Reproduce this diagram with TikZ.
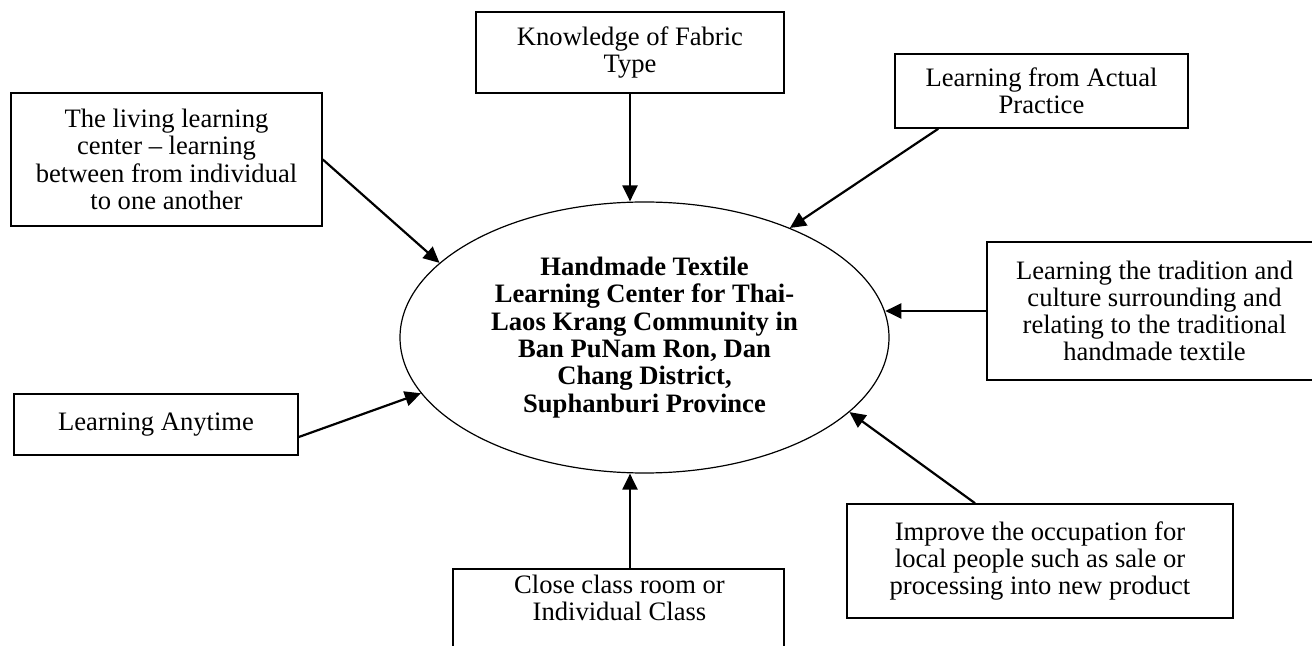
\documentclass[tikz,border=0pt]{standalone}
\usepackage{fontspec}
\setmainfont{Liberation Serif}
\usetikzlibrary{shapes.geometric,arrows.meta}
\tikzset{
  box/.style={draw, line width=0.8pt, align=center, inner sep=0pt, font=\fontsize{13.3}{13.6}\selectfont},
  hubshape/.style={draw, ellipse, line width=0.6pt, inner sep=0pt, align=center, font=\fontsize{13.3}{13.7}\selectfont\bfseries},
  feed/.style={line width=1.1pt, -{Triangle[length=8pt,width=7.5pt]}}
}
\begin{document}
\begin{tikzpicture}[x=0.5pt, y=-0.5pt]
            \useasboundingbox (0,0) rectangle (1312,646);
            \node[hubshape, minimum width=244.5pt, minimum height=135.5pt] (hub) at (644.5,337.5) {Handmade Textile\\Learning Center for Thai-\\Laos Krang Community in\\Ban PuNam Ron, Dan\\Chang District,\\Suphanburi Province};
            \node[box, minimum width=155.5pt, minimum height=66.5pt] (living) at (166.5,159.5) {The living learning\\center -- learning\\between from individual\\to one another};
            \node[box, minimum width=154pt, minimum height=40.5pt] (fabric) at (630,52.5) {Knowledge of Fabric\\Type};
            \node[box, minimum width=146.5pt, minimum height=37pt] (practice) at (1041.5,91) {Learning from Actual\\Practice};
            \node[box, minimum width=167.5pt, minimum height=69pt] (tradition) at (1154.5,311) {Learning the tradition and\\culture surrounding and\\relating to the traditional\\handmade textile};
            \node[box, minimum width=193pt, minimum height=57pt] (improve) at (1040,561) {Improve the occupation for\\local people such as sale or\\processing into new product};
            \node[box, minimum width=142pt, minimum height=30.5pt] (anytime) at (156,424.5) {Learning Anytime};
            \node[box, anchor=north, minimum width=165.5pt, minimum height=60pt] (close) at (618.5,568) {};
            \node[align=center, font=\fontsize{13.3}{13.6}\selectfont] (closetext) at (619.5,598) {Close class room or\\Individual Class};
            \draw[feed] (living.east) -- (hub.160);
            \draw[feed] (fabric.south) -- (fabric.south |- hub.north);
            \draw[feed] ([xshift=22pt]practice.south west) -- (hub.37);
            \draw[feed] (tradition.west) -- (tradition.west -| hub.6);
            \draw[feed] ([xshift=-32.5pt]improve.north) -- (hub.-20);
            \draw[feed] (fabric.south |- close.north) -- (fabric.south |- hub.south);
            \draw[feed] ([yshift=-6.25pt]anytime.east) -- (hub.194);
        \end{tikzpicture}
\end{document}
